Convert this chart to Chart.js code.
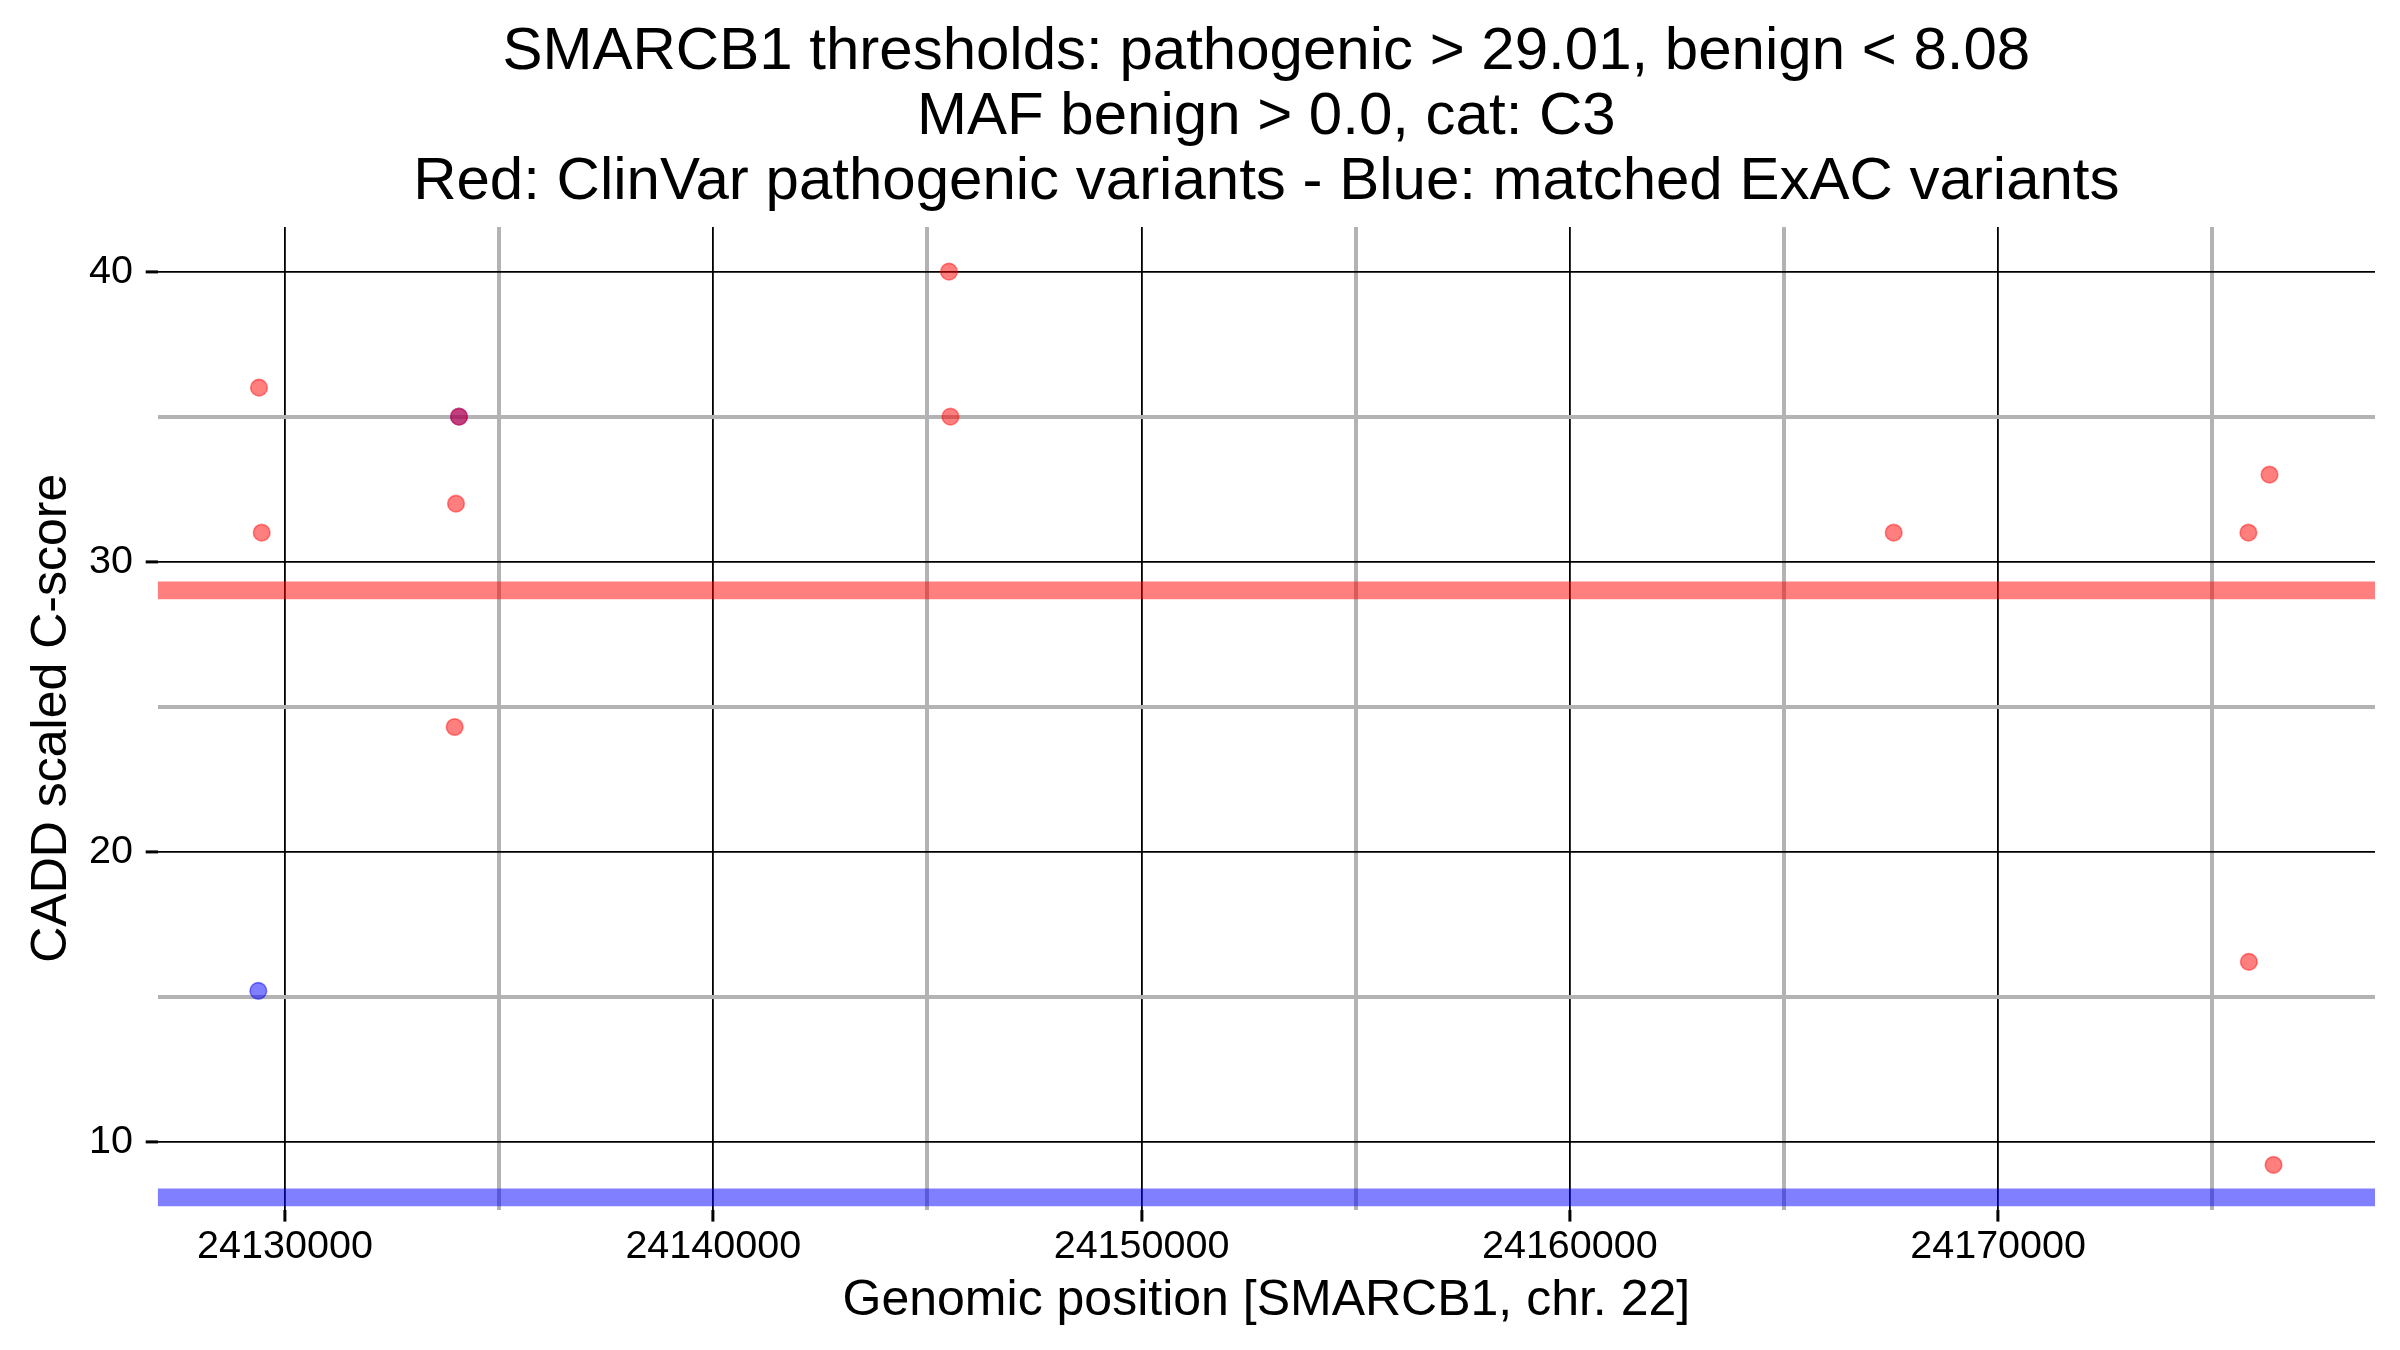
<!DOCTYPE html>
<html><head><meta charset="utf-8">
<script src="https://cdn.jsdelivr.net/npm/chart.js@4.4.0/dist/chart.umd.min.js"></script>
<style>html,body{margin:0;padding:0;background:#fff}canvas{display:block}</style>
</head><body>
<canvas id="c" width="2400" height="1350"></canvas>
<script>
const titleLines = [
  "SMARCB1 thresholds: pathogenic > 29.01, benign < 8.08",
  "MAF benign > 0.0, cat: C3",
  "Red: ClinVar pathogenic variants - Blue: matched ExAC variants"
];
const xAxisTitle = "Genomic position [SMARCB1, chr. 22]";
const yAxisTitle = "CADD scaled C-score";

// ClinVar pathogenic variants (red)
const clinvarPos   = [24129393, 24129456, 24134063, 24133993, 24133962, 24145503, 24145538, 24167562, 24175844, 24176337, 24175855, 24176431];
const clinvarScore = [36,       31,       35,       32,       24.3,     40,       35,       31,       31,       33,       16.2,     9.2];
// matched ExAC variants (blue)
const exacPos   = [24129377, 24134063];
const exacScore = [15.2,     35];

const pathogenicThreshold = 29.01;
const benignThreshold = 8.08;

const xMajorTicks = [24130000, 24140000, 24150000, 24160000, 24170000];
const xMinorTicks = [24135000, 24145000, 24155000, 24165000, 24175000];
const yMajorTicks = [10, 20, 30, 40];
const yMinorTicks = [15, 25, 35];
const xRange = [24127028, 24178800];
const yRange = [7.66, 41.54];

const FONT = "'Liberation Sans', Arial, Helvetica, sans-serif";
const toPts = (xs, ys) => xs.map((x, i) => ({x: x, y: ys[i]}));
const hline = (y) => [{x: xRange[0], y: y}, {x: xRange[1], y: y}];

function gridFor(major) {
  const isMajor = (ctx) => ctx.tick && major.includes(ctx.tick.value);
  return {
    drawOnChartArea: true,
    drawTicks: true,
    tickLength: 12,
    color: (ctx) => isMajor(ctx) ? '#000000' : '#b3b3b3',
    lineWidth: (ctx) => isMajor(ctx) ? 1.8 : 4,
    tickColor: (ctx) => isMajor(ctx) ? '#000000' : 'rgba(0,0,0,0)',
    tickWidth: 3
  };
}

new Chart(document.getElementById('c'), {
  type: 'scatter',
  data: {
    datasets: [
      {
        type: 'line', label: 'pathogenic threshold', data: hline(pathogenicThreshold),
        borderColor: 'rgba(255,0,0,0.5)', borderWidth: 17.7, pointRadius: 0, fill: false, order: 3
      },
      {
        type: 'line', label: 'benign threshold', data: hline(benignThreshold),
        borderColor: 'rgba(0,0,255,0.5)', borderWidth: 17.7, pointRadius: 0, fill: false, order: 4
      },
      {
        label: 'ClinVar', data: toPts(clinvarPos, clinvarScore),
        backgroundColor: 'rgba(255,0,0,0.5)', borderColor: 'rgba(255,0,0,0.45)',
        borderWidth: 1.6, pointRadius: 8.3, order: 1
      },
      {
        label: 'ExAC', data: toPts(exacPos, exacScore),
        backgroundColor: 'rgba(0,0,255,0.5)', borderColor: 'rgba(0,0,255,0.45)',
        borderWidth: 1.6, pointRadius: 8.3, order: 2
      }
    ]
  },
  options: {
    responsive: false,
    devicePixelRatio: 1,
    animation: false,
    events: [],
    layout: {padding: {left: 0, right: 25, top: 0, bottom: 0}},
    plugins: {
      legend: {display: false},
      tooltip: {enabled: false},
      title: {
        display: true,
        text: titleLines,
        fullSize: false,
        color: '#000',
        font: {family: FONT, size: 60, weight: 'normal', lineHeight: 65 / 60},
        padding: {top: 19.5, bottom: 12.5}
      }
    },
    scales: {
      x: {
        type: 'linear',
        min: xRange[0], max: xRange[1],
        afterBuildTicks: (s) => { s.ticks = xMajorTicks.concat(xMinorTicks).sort((a, b) => a - b).map(v => ({value: v})); },
        afterFit: (s) => { s.height = 140.4; },
        border: {display: false},
        grid: gridFor(xMajorTicks),
        ticks: {
          autoSkip: false, maxRotation: 0, minRotation: 0, padding: 2,
          color: '#000', font: {family: FONT, size: 39.5},
          callback: (v) => xMajorTicks.includes(v) ? String(v) : ''
        },
        title: {
          display: true, text: xAxisTitle, color: '#000',
          font: {family: FONT, size: 50, lineHeight: 1.2},
          padding: {top: 0, bottom: 19}
        }
      },
      y: {
        type: 'linear',
        min: yRange[0], max: yRange[1],
        afterBuildTicks: (s) => { s.ticks = yMajorTicks.concat(yMinorTicks).sort((a, b) => a - b).map(v => ({value: v})); },
        afterFit: (s) => { s.width = 157.7; },
        border: {display: false},
        grid: gridFor(yMajorTicks),
        ticks: {
          autoSkip: false, padding: 12.7,
          color: '#000', font: {family: FONT, size: 39.5},
          callback: (v) => yMajorTicks.includes(v) ? String(v) : ''
        },
        title: {
          display: true, text: yAxisTitle, color: '#000',
          font: {family: FONT, size: 50, lineHeight: 1.2},
          padding: {top: 22, bottom: 0}
        }
      }
    }
  }
});
</script>
</body></html>
